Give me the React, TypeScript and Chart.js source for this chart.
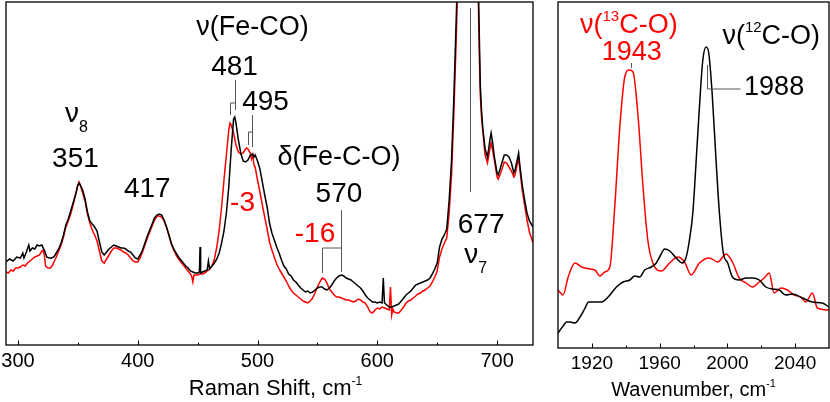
import { useEffect, useRef } from "react";
import { Chart, registerables } from "chart.js";

Chart.register(...registerables);

const FONT = '"Liberation Sans", Arial, Helvetica, sans-serif';
const BLACK = "#000000";
const RED = "#ff0000";
const GUIDE = "#555555";

// ---- Raman spectrum, 12C16O adduct (black) ----
const raman12Shift = [
  290, 293, 296, 299, 302, 304, 305, 307, 309, 310, 312, 314, 316, 318, 320, 321, 322, 324, 326, 328, 330, 332, 334, 336, 338,
  340, 342, 344, 346, 348, 350, 351, 352, 354, 356, 358, 360, 362, 364, 366, 368, 370, 372, 374, 376, 378, 380, 382, 384, 386,
  388, 390, 392, 394, 396, 398, 400, 402, 404, 406, 408, 410, 412, 414, 416, 418, 420, 422, 424, 426, 428, 430, 432, 434, 436,
  438, 440, 442, 444, 446, 448, 450, 451.5, 452, 452.5, 454, 456, 458, 459, 460, 462, 464, 466, 468, 470, 472, 474, 476, 478,
  480, 481, 482, 484, 486, 488, 490, 492, 494, 496, 497, 498, 500, 502, 504, 506, 508, 510, 512, 514, 516, 518, 520, 522, 524,
  526, 528, 530, 532, 534, 536, 538, 540, 542, 544, 546, 548, 550, 552, 554, 556, 558, 560, 562, 564, 566, 568, 570, 572, 574,
  576, 578, 580, 582, 584, 586, 588, 590, 592, 594, 596, 598, 600, 602, 604, 605, 606, 608, 610, 612, 614, 616, 618, 620, 622,
  624, 626, 628, 630, 632, 634, 636, 638, 640, 642, 644, 646, 648, 650, 652, 654, 656, 658, 660, 662, 664, 666, 668, 672, 678,
  682, 684, 685, 686, 687, 688, 690, 692, 694, 695, 696, 698, 700, 701, 703, 706, 708, 710, 712, 714, 715, 717, 718, 719, 721,
  723, 725, 727, 729, 730,
];
const raman12Intensity = [
  83, 86, 84, 88, 87, 92, 87, 93, 100, 94, 97, 96, 100, 99, 100, 97, 95, 88, 87, 87, 88, 92, 96, 102, 110,
  120, 126, 134, 142, 150, 160, 162, 160, 155, 146, 133, 124, 121, 118, 114, 103, 93, 90, 93, 96, 98, 100, 99, 98, 97,
  97, 96, 94, 93, 90, 87, 86, 90, 95, 102, 109, 115, 121, 127, 130, 131, 130, 125, 118, 110, 102, 96, 92, 88, 85,
  82, 79, 77, 74, 73, 72, 72, 73, 98, 72, 73, 74, 75, 84, 76, 79, 82, 86, 92, 102, 114, 132, 158, 195,
  226, 228, 222, 205, 192, 184, 183, 185, 190, 191, 188, 190, 184, 176, 163, 150, 138, 122, 112, 105, 98, 92, 85, 79, 76,
  71, 69, 65, 63, 60, 57, 55, 53, 54, 52, 53, 55, 57, 58, 58, 56, 55, 57, 60, 64, 67, 69, 70, 69, 67,
  66, 65, 63, 61, 59, 57, 54, 50, 47, 45, 43, 43, 42, 43, 42, 67, 42, 40, 38, 38, 39, 40, 41, 44, 47,
  50, 52, 54, 57, 60, 61, 62, 63, 64, 65, 67, 71, 76, 82, 98, 106, 110, 116, 145, 185, 250, 330, 420, 500, 520,
  460, 380, 320, 260, 235, 218, 196, 188, 205, 212, 205, 186, 172, 170, 178, 190, 190, 188, 182, 172, 175, 186, 192, 180, 160,
  145, 132, 124, 120, 118,
];

// ---- Raman spectrum, 13C16O adduct (red) ----
const raman13Shift = [
  290, 292, 294, 296, 298, 300, 302, 304, 306, 308, 310, 312, 314, 316, 318, 320, 321, 322, 323, 325, 327, 329, 330, 332, 334,
  336, 338, 340, 342, 344, 346, 348, 350, 351, 352, 354, 356, 358, 360, 362, 364, 366, 368, 370, 372, 374, 376, 378, 380, 382,
  384, 386, 388, 390, 392, 394, 396, 398, 400, 402, 404, 406, 408, 410, 412, 414, 416, 418, 420, 422, 424, 426, 428, 430, 432,
  434, 436, 438, 440, 442, 444, 445, 446, 447, 448, 450, 452, 454, 456, 458, 460, 462, 464, 466, 468, 470, 472, 474, 476, 477,
  478, 480, 482, 484, 486, 488, 490, 491, 492, 494, 495, 496, 497, 498, 500, 502, 504, 506, 508, 510, 512, 514, 516, 518, 520,
  522, 524, 526, 528, 530, 532, 534, 536, 538, 540, 542, 544, 546, 548, 550, 552, 554, 556, 558, 560, 562, 564, 566, 568, 570,
  572, 574, 576, 578, 580, 582, 584, 586, 588, 590, 592, 594, 596, 598, 600, 602, 604, 606, 608, 610, 611, 612, 613, 614, 616,
  618, 620, 622, 624, 626, 628, 630, 632, 634, 636, 638, 640, 642, 644, 646, 648, 650, 652, 654, 656, 658, 660, 662, 664, 666,
  668, 672, 678, 682, 684, 685, 686, 687, 688, 690, 692, 694, 695, 696, 698, 700, 701, 703, 706, 708, 710, 712, 714, 715, 717,
  718, 719, 721, 723, 725, 727, 729, 730,
];
const raman13Intensity = [
  73, 72, 75, 74, 77, 77, 78, 80, 79, 82, 84, 86, 88, 89, 90, 94, 95, 90, 79, 77, 77, 80, 83, 88, 94,
  100, 108, 118, 124, 131, 140, 150, 160, 163, 160, 152, 144, 131, 122, 115, 110, 104, 94, 84, 82, 86, 90, 94, 97, 97,
  96, 95, 93, 92, 90, 87, 84, 83, 83, 87, 93, 100, 107, 113, 119, 125, 129, 129, 128, 124, 118, 110, 101, 95, 90,
  86, 83, 80, 77, 74, 71, 69, 63, 70, 70, 70, 71, 71, 72, 74, 76, 79, 86, 98, 115, 138, 165, 190, 215, 222,
  220, 212, 200, 193, 191, 192, 196, 197, 196, 192, 186, 190, 180, 178, 165, 153, 140, 128, 116, 103, 95, 88, 81, 76, 72,
  68, 64, 59, 55, 52, 50, 48, 46, 44, 43, 42, 44, 47, 52, 58, 63, 67, 66, 62, 56, 53, 50, 48, 48, 47,
  46, 45, 45, 44, 43, 44, 46, 45, 43, 42, 38, 33, 32, 35, 37, 36, 38, 37, 36, 35, 58, 30, 36, 33, 32,
  32, 35, 38, 42, 44, 45, 47, 49, 51, 52, 54, 55, 57, 59, 63, 68, 74, 88, 96, 102, 107, 132, 170, 235, 310,
  400, 500, 520, 460, 370, 300, 250, 228, 215, 190, 182, 196, 202, 197, 183, 168, 166, 172, 183, 182, 178, 174, 168, 170, 182,
  185, 176, 155, 140, 125, 113, 106, 102,
];

// ---- IR spectrum, nu(C-O) region ----
const ir12Wavenumber = [
  1900, 1903, 1905, 1907, 1910, 1913, 1916, 1918, 1922, 1925.7, 1929.6, 1934.5, 1938.4, 1942.4, 1945.3, 1948.2, 1951.2, 1955.1,
  1958, 1960, 1963, 1966, 1969.8, 1973.3, 1975.7, 1977.6, 1979.6, 1981.6, 1983.5, 1985.5, 1987.5, 1989, 1991, 1993.3, 1995.3,
  1997.6, 2000.2, 2003, 2007, 2011, 2014.9, 2018.8, 2022.7, 2026.7, 2030.6, 2034.5, 2038.4, 2044.3, 2050.2, 2056, 2060,
];
const ir12Absorbance = [
  15, 22, 26, 26, 25, 31, 40, 46, 46, 46, 51, 61, 66, 68, 72, 71, 78, 81,
  85, 91, 99, 97, 90, 85, 91, 108, 135, 188, 241, 288, 301, 295, 255, 188, 135,
  95, 85, 71, 68, 70, 70, 68, 61, 59, 58, 53, 54, 50, 46, 45, 41,
];
const ir13Wavenumber = [
  1900, 1903, 1906, 1910, 1914, 1918.8, 1921.8, 1924.7, 1927.6, 1930.6, 1933.5, 1936.5, 1939.4, 1942, 1944.3, 1947.3, 1950.2,
  1953, 1956, 1961, 1965.9, 1970.8, 1974.7, 1978.6, 1983.5, 1989.4, 1994.3, 1999.2, 2003, 2007, 2011, 2014.9, 2018.8, 2021.8,
  2024.7, 2027.6, 2031.6, 2035.5, 2039.4, 2043.3, 2046.3, 2050.2, 2053.1, 2060,
];
const ir13Absorbance = [
  58, 53, 71, 85, 81, 79, 78, 72, 76, 81, 141, 221, 271, 278, 276, 231, 161,
  108, 85, 77, 85, 91, 86, 73, 85, 90, 86, 94, 86, 70, 65, 61, 66, 70,
  75, 55, 60, 58, 53, 51, 46, 55, 40, 38,
];

// ---- axis ticks ----
const ramanMajorTicks = [300, 400, 500, 600, 700];
const ramanMinorTicks = [350, 450, 550, 650];
const irMajorTicks = [1920, 1960, 2000, 2040];
const irMinorTicks = [1940, 1980, 2020];

type Seg = { t: string; sup?: boolean; sub?: boolean };
type Label = { x: number; y: number; parts: Seg[]; color: string; size: number; align?: "center" | "left" };
type Guide = number[][];

const ramanLabels: Label[] = [
  { x: 495.8, y: 310, parts: [{ t: "ν(Fe-CO)" }], color: BLACK, size: 27 },
  { x: 480.8, y: 270, parts: [{ t: "481" }], color: BLACK, size: 28 },
  { x: 506.7, y: 235, parts: [{ t: "495" }], color: BLACK, size: 28 },
  { x: 487.5, y: 134, parts: [{ t: "-3" }], color: RED, size: 28 },
  { x: 339.2, y: 223, parts: [{ t: "ν" }, { t: "8", sub: true }], color: BLACK, size: 28, align: "left" },
  { x: 348, y: 178, parts: [{ t: "351" }], color: BLACK, size: 28 },
  { x: 408, y: 148, parts: [{ t: "417" }], color: BLACK, size: 28 },
  { x: 568, y: 180, parts: [{ t: "δ(Fe-C-O)" }], color: BLACK, size: 27 },
  { x: 568, y: 143, parts: [{ t: "570" }], color: BLACK, size: 28 },
  { x: 548, y: 103, parts: [{ t: "-16" }], color: RED, size: 28 },
  { x: 686.7, y: 112, parts: [{ t: "677" }], color: BLACK, size: 28 },
  { x: 672.5, y: 82, parts: [{ t: "ν" }, { t: "7", sub: true }], color: BLACK, size: 28, align: "left" },
];
const ramanGuides: Guide[] = [
  [[481, 265], [481, 235]],
  [[477, 230], [477, 242], [481, 242]],
  [[495, 230], [495, 198]],
  [[492, 200], [492, 213], [495, 213]],
  [[570, 135], [570, 73]],
  [[554, 72], [554, 97], [570, 97]],
  [[677, 337], [677, 153]],
];

const irLabels: Label[] = [
  { x: 1941.8, y: 315, parts: [{ t: "ν(" }, { t: "13", sup: true }, { t: "C-O)" }], color: RED, size: 27 },
  { x: 1943.5, y: 288, parts: [{ t: "1943" }], color: RED, size: 27 },
  { x: 2025.9, y: 304, parts: [{ t: "ν(" }, { t: "12", sup: true }, { t: "C-O)" }], color: BLACK, size: 27 },
  { x: 2027.6, y: 253, parts: [{ t: "1988" }], color: BLACK, size: 27 },
];
const irGuides: Guide[] = [
  [[1943, 285], [1943, 280]],
  [[1988, 283], [1988, 259], [2007.6, 259]],
];

const toPoints = (xs: number[], ys: number[]) => xs.map((x, i) => ({ x, y: ys[i] }));

function drawRich(ctx: CanvasRenderingContext2D, x: number, y: number, parts: Seg[], size: number, color: string, align = "center") {
  const small = Math.round(size * 0.56);
  ctx.fillStyle = color;
  ctx.textAlign = "left";
  ctx.textBaseline = "alphabetic";
  const widths = parts.map((p) => {
    ctx.font = `${p.sup || p.sub ? small : size}px ${FONT}`;
    return ctx.measureText(p.t).width;
  });
  const total = widths.reduce((a, b) => a + b, 0);
  let cx = align === "left" ? x : x - total / 2;
  parts.forEach((p, i) => {
    ctx.font = `${p.sup || p.sub ? small : size}px ${FONT}`;
    const dy = p.sup ? -size * 0.44 : p.sub ? size * 0.35 : 0;
    ctx.fillText(p.t, cx, y + dy);
    cx += widths[i];
  });
}

function panelPlugin(opts: {
  major: number[];
  minor: number[];
  labels: Label[];
  guides: Guide[];
  title: string;
  titleSize: number;
  titleShift: number;
  titleBaseline: number;
}) {
  return {
    id: "panelDecor",
    afterDatasetsDraw(chart: Chart) {
      const { ctx, chartArea: a } = chart;
      const xs = chart.scales.x;
      const ys = chart.scales.y;
      ctx.save();
      // guide lines from labels to peaks
      ctx.strokeStyle = GUIDE;
      ctx.lineWidth = 1;
      opts.guides.forEach((g) => {
        ctx.beginPath();
        g.forEach(([gx, gy], i) => {
          const px = Math.round(xs.getPixelForValue(gx)) + 0.5;
          const py = ys.getPixelForValue(gy);
          if (i === 0) ctx.moveTo(px, py);
          else ctx.lineTo(px, py);
        });
        ctx.stroke();
      });
      // peak labels
      opts.labels.forEach((l) => {
        drawRich(ctx, xs.getPixelForValue(l.x), ys.getPixelForValue(l.y), l.parts, l.size, l.color, l.align);
      });
      // frame
      ctx.strokeStyle = BLACK;
      ctx.lineWidth = 1.3;
      ctx.strokeRect(a.left, a.top, a.right - a.left, a.bottom - a.top);
      // inward ticks on the bottom axis
      ctx.lineWidth = 1;
      const tick = (v: number, len: number) => {
        const px = Math.round(xs.getPixelForValue(v)) + 0.5;
        ctx.beginPath();
        ctx.moveTo(px, a.bottom);
        ctx.lineTo(px, a.bottom - len);
        ctx.stroke();
      };
      opts.major.forEach((v) => tick(v, 4.5));
      opts.minor.forEach((v) => tick(v, 2.5));
      // axis title with superscript unit
      drawRich(
        ctx,
        (a.left + a.right) / 2 + opts.titleShift,
        opts.titleBaseline,
        [{ t: opts.title }, { t: "-1", sup: true }],
        opts.titleSize,
        BLACK
      );
      ctx.restore();
    },
  };
}

function buildChart(
  canvas: HTMLCanvasElement,
  sets: { data: { x: number; y: number }[]; color: string; smooth: boolean }[],
  xr: [number, number],
  yMax: number,
  padding: { left: number; right: number; top: number },
  axisHeight: number,
  ticks: number[],
  tickSize: number,
  tickPad: number,
  plugin: ReturnType<typeof panelPlugin>
) {
  return new Chart(canvas, {
    type: "line",
    data: {
      datasets: sets.map((s) => ({
        data: s.data,
        borderColor: s.color,
        borderWidth: 1.5,
        pointRadius: 0,
        fill: false,
        tension: s.smooth ? 0.4 : 0,
        cubicInterpolationMode: s.smooth ? ("monotone" as const) : ("default" as const),
      })),
    },
    options: {
      animation: false,
      responsive: false,
      devicePixelRatio: 1,
      events: [],
      layout: { padding: { left: padding.left, right: padding.right, top: padding.top, bottom: 0 } },
      plugins: { legend: { display: false }, tooltip: { enabled: false }, title: { display: false } },
      scales: {
        x: {
          type: "linear",
          min: xr[0],
          max: xr[1],
          afterBuildTicks: (s: any) => {
            s.ticks = ticks.map((v) => ({ value: v }));
          },
          afterFit: (s: any) => {
            s.height = axisHeight;
            s.paddingLeft = 0;
            s.paddingRight = 0;
          },
          grid: { display: false, drawTicks: false },
          border: { display: false },
          ticks: {
            color: BLACK,
            font: { family: FONT, size: tickSize },
            padding: tickPad,
            maxRotation: 0,
            autoSkip: false,
            callback: (v: any) => String(v),
          },
        },
        y: { display: false, min: 0, max: yMax },
      },
    },
    plugins: [plugin],
  });
}

export default function App() {
  const ramanRef = useRef<HTMLCanvasElement>(null);
  const irRef = useRef<HTMLCanvasElement>(null);

  useEffect(() => {
    const raman = buildChart(
      ramanRef.current!,
      [
        { data: toPoints(raman12Shift, raman12Intensity), color: BLACK, smooth: false },
        { data: toPoints(raman13Shift, raman13Intensity), color: RED, smooth: false },
      ],
      [290, 730],
      343,
      { left: 6, right: 12, top: 2 },
      57,
      ramanMajorTicks,
      20,
      4,
      panelPlugin({
        major: ramanMajorTicks,
        minor: ramanMinorTicks,
        labels: ramanLabels,
        guides: ramanGuides,
        title: "Raman Shift, cm",
        titleSize: 22,
        titleShift: 6,
        titleBaseline: 395,
      })
    );
    const ir = buildChart(
      irRef.current!,
      [
        { data: toPoints(ir12Wavenumber, ir12Absorbance), color: BLACK, smooth: true },
        { data: toPoints(ir13Wavenumber, ir13Absorbance), color: RED, smooth: true },
      ],
      [1900, 2060],
      346,
      { left: 13, right: 1, top: 2 },
      54,
      irMajorTicks,
      19,
      4,
      panelPlugin({
        major: irMajorTicks,
        minor: irMinorTicks,
        labels: irLabels,
        guides: irGuides,
        title: "Wavenumber, cm",
        titleSize: 20,
        titleShift: 0,
        titleBaseline: 396,
      })
    );
    return () => {
      raman.destroy();
      ir.destroy();
    };
  }, []);

  return (
    <div style={{ position: "fixed", left: 0, top: 0, width: 830, height: 402, background: "#ffffff" }}>
      <canvas
        ref={ramanRef}
        width={545}
        height={402}
        style={{ position: "absolute", left: 0, top: 0, width: 545, height: 402 }}
      />
      <canvas
        ref={irRef}
        width={285}
        height={402}
        style={{ position: "absolute", left: 545, top: 0, width: 285, height: 402 }}
      />
    </div>
  );
}
